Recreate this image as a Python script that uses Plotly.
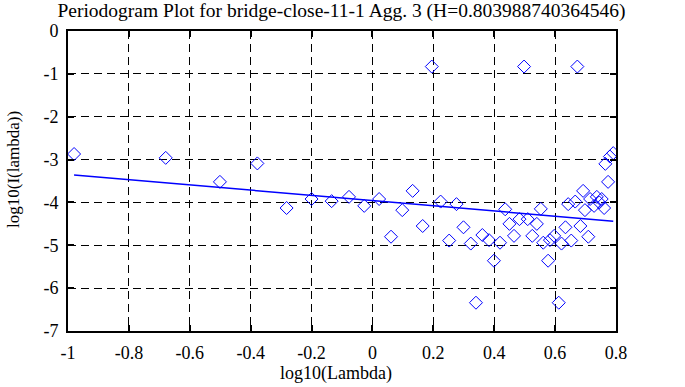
import plotly.graph_objects as go

log_lambda = [-0.980, -0.679, -0.501, -0.378, -0.282, -0.200, -0.134, -0.077, -0.027, 0.022,
              0.061, 0.098, 0.132, 0.165, 0.195, 0.224, 0.252, 0.276, 0.299, 0.323,
              0.340, 0.361, 0.383, 0.399, 0.419, 0.436, 0.450, 0.465, 0.483, 0.498,
              0.510, 0.525, 0.540, 0.553, 0.561, 0.577, 0.583, 0.597, 0.612, 0.621,
              0.634, 0.643, 0.653, 0.666, 0.673, 0.683, 0.692, 0.698, 0.709, 0.715,
              0.728, 0.737, 0.745, 0.753, 0.761, 0.765, 0.774, 0.780, 0.791]
log_I = [-2.87, -2.96, -3.52, -3.09, -4.13, -3.92, -3.97, -3.87, -4.08, -3.92,
         -4.80, -4.18, -3.73, -4.55, -0.83, -3.98, -4.89, -4.04, -4.58, -4.96,
         -6.34, -4.76, -4.88, -5.36, -4.94, -4.16, -4.50, -4.78, -4.39, -0.83,
         -4.39, -4.78, -4.50, -4.15, -4.94, -5.36, -4.88, -4.78, -6.34, -4.96,
         -4.58, -4.04, -4.89, -3.98, -0.83, -4.55, -3.73, -4.18, -4.80, -3.92,
         -4.08, -3.87, -4.00, -3.92, -4.13, -3.10, -3.52, -2.93, -2.85]

fit_x = [-0.980, 0.791]
fit_y = [-3.360, -4.437]

title_text = "Periodogram Plot for bridge-close-11-1 Agg. 3 (H=0.803988740364546)"
x_title = "log10(Lambda)"
y_title = "log10(I(lambda))"
x_ticks = [-1, -0.8, -0.6, -0.4, -0.2, 0, 0.2, 0.4, 0.6, 0.8]
y_ticks = [0, -1, -2, -3, -4, -5, -6, -7]

FONT = "Liberation Serif"
BLUE = "#0000ff"

fig = go.Figure()
fig.add_trace(go.Scatter(x=log_lambda, y=log_I, mode="markers",
                         marker=dict(symbol="diamond-open", size=10, color=BLUE,
                                     line=dict(width=1, color=BLUE)),
                         showlegend=False))
fig.add_trace(go.Scatter(x=fit_x, y=fit_y, mode="lines",
                         line=dict(color=BLUE, width=1.5), showlegend=False))

axis_common = dict(showgrid=True, gridcolor="black", gridwidth=1, griddash="8px,5px",
                   showline=True, linecolor="black", linewidth=2, mirror="ticks",
                   ticks="inside", ticklen=6, tickcolor="black", tickwidth=2,
                   zeroline=False, tickfont=dict(family=FONT, size=18, color="black"))

fig.update_xaxes(range=[-1, 0.8], tickvals=x_ticks,
                 ticktext=[f"{v:g}" for v in x_ticks],
                 ticklabelstandoff=4, **axis_common)
fig.update_yaxes(range=[-7, 0], tickvals=y_ticks,
                 ticktext=[f"{v:g}" for v in y_ticks],
                 ticklabelstandoff=4, **axis_common)

fig.add_annotation(text=x_title, xref="paper", yref="paper", x=0.489, y=-0.143,
                   xanchor="center", yanchor="middle", showarrow=False,
                   font=dict(family=FONT, size=18, color="black"))
fig.add_annotation(text=y_title, xref="paper", yref="paper", x=-0.0985, y=0.537,
                   xanchor="center", yanchor="middle", showarrow=False, textangle=-90,
                   font=dict(family=FONT, size=17, color="black"))

fig.update_layout(
    width=685, height=387,
    margin=dict(l=68, r=69, t=31, b=56),
    paper_bgcolor="white", plot_bgcolor="white",
    title=dict(text=title_text, x=341.5 / 685, xanchor="center", y=1 - 10 / 387,
               yanchor="middle", yref="container",
               font=dict(family=FONT, size=19.5, color="black")),
)

fig.write_html("out.html", config={"displayModeBar": False},
               post_script="document.body.style.margin='0';")
